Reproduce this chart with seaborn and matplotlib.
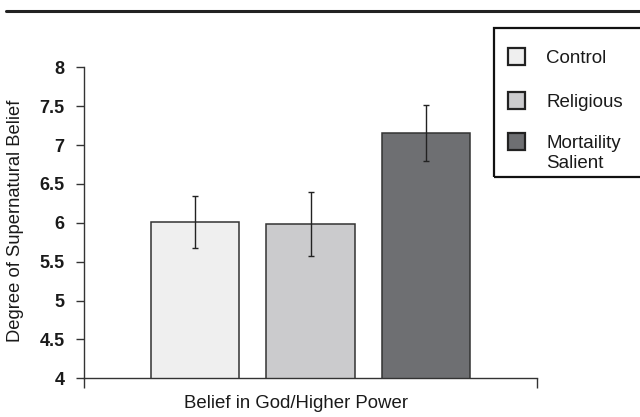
import matplotlib
matplotlib.use("Agg")
import matplotlib.pyplot as plt
from matplotlib.patches import Rectangle
from matplotlib.lines import Line2D
import seaborn as sns
import pandas as pd

# ---- data ----
conditions = ["Control", "Religious", "Mortaility\nSalient"]
means = [6.01, 5.98, 7.15]
errors = [0.33, 0.41, 0.36]
colors = ["#efefef", "#cbcbcd", "#6e6f72"]
y_ticks = [4, 4.5, 5, 5.5, 6, 6.5, 7, 7.5, 8]
y_ticklabels = ["4", "4.5", "5", "5.5", "6", "6.5", "7", "7.5", "8"]
x_label = "Belief in God/Higher Power"
y_label = "Degree of Supernatural Belief"

sns.set_theme(style="white")
plt.rcParams["font.family"] = ["Liberation Sans", "DejaVu Sans"]

W, H = 640, 417
df = pd.DataFrame({"condition": conditions, "mean": means})

fig = plt.figure(figsize=(6.4, 4.17), dpi=100)
ax = fig.add_axes([84 / W, (H - 378.3) / H, (537 - 84) / W, (378.3 - 67.3) / H])

sns.barplot(data=df, x="condition", y="mean", hue="condition",
            order=conditions, hue_order=conditions, palette=colors,
            saturation=1, width=0.767, edgecolor="#333333", linewidth=1.1,
            errorbar=None, legend=False, ax=ax)

ax.errorbar(range(len(conditions)), means, yerr=errors, fmt="none",
            ecolor="#222222", elinewidth=1, capsize=2.3, capthick=1, zorder=5)

ax.set_ylim(4, 8)
xl = (-0.961, 2.96)
ax.set_xlim(*xl)
ax.set_yticks(y_ticks, y_ticklabels, fontsize=13, fontweight="bold", color="#1a1a1a")
ax.set_xticks(list(xl), ["", ""])
ax.tick_params(axis="y", left=True, direction="out", length=6, width=1,
               color="#333333", pad=8)
ax.tick_params(axis="x", bottom=True, direction="out", length=7, width=1,
               color="#333333")
for s in ["top", "right"]:
    ax.spines[s].set_visible(False)
for s in ["left", "bottom"]:
    ax.spines[s].set_color("#333333")
    ax.spines[s].set_linewidth(1)

ax.set_xlabel(x_label, fontsize=13.4, color="#1a1a1a")
ax.xaxis.set_label_coords(0.469, -0.055)
ax.set_ylabel(y_label, fontsize=13.2, color="#1a1a1a")
ax.yaxis.set_label_coords(-0.132, 0.505)

# ---- top rule ----
fig.add_artist(Line2D([6 / W, 1.0], [1 - 10.5 / H] * 2, lw=2.2, color="#222222"))

# ---- legend box (manual) ----
fig.add_artist(Rectangle((494 / W, 1 - 177 / H), 160 / W, (177 - 28) / H,
                         transform=fig.transFigure, fill=False,
                         edgecolor="#111111", linewidth=1.6))
cap_tops = [50, 94, 135]
sq = 17
for label, col, top in zip(conditions, colors, cap_tops):
    cy = top + 6.5
    fig.add_artist(Rectangle((508 / W, 1 - (cy + sq / 2) / H), sq / W, sq / H,
                             transform=fig.transFigure, facecolor=col,
                             edgecolor="#222222", linewidth=1.6))
    fig.text(546 / W, 1 - top / H, label, fontsize=13.5, color="#1a1a1a",
             ha="left", va="top", linespacing=1.2)

fig.savefig("out.png", dpi=100)
